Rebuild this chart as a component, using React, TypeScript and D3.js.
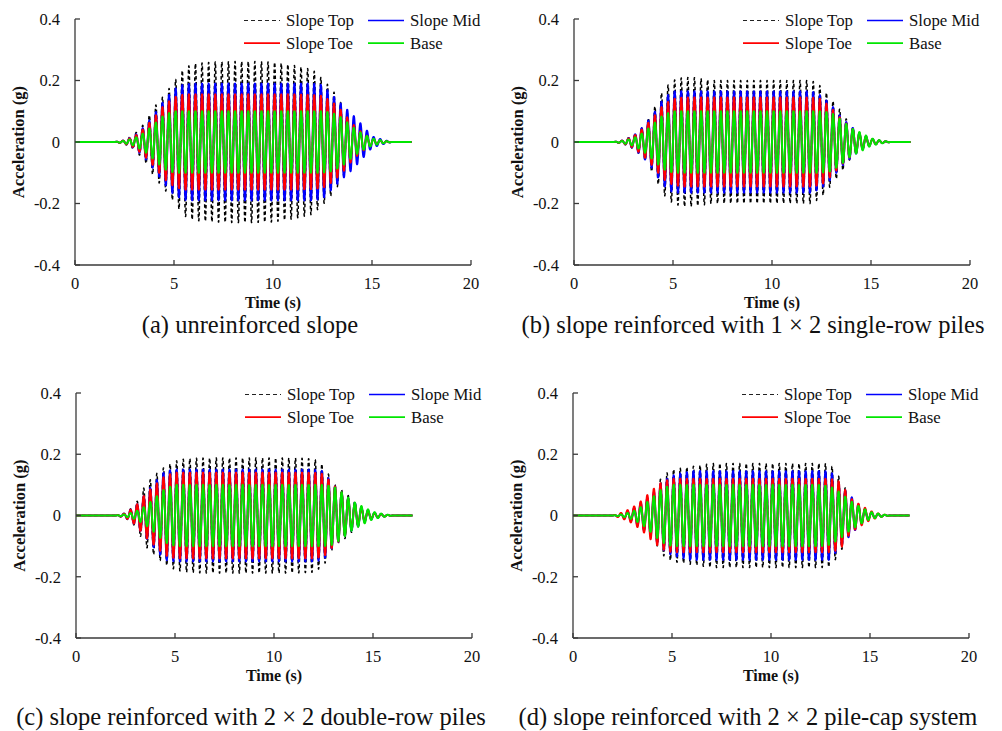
import React from "react";
import * as d3 from "d3";

// ---------- DATA ----------
const SERIES_NAMES = ["Slope Top", "Slope Mid", "Slope Toe", "Base"];
const X_TICKS = [0, 5, 10, 15, 20];
const Y_TICKS = [0.4, 0.2, 0, -0.2, -0.4];
const CAPTIONS = [
  "(a) unreinforced slope",
  "(b) slope reinforced with 1 × 2 single-row piles",
  "(c) slope reinforced with 2 × 2 double-row piles",
  "(d) slope reinforced with 2 × 2 pile-cap system",
];
const DURATION = 17; // s, record length
const CARRIER_HZ = 3; // dominant frequency of the harmonic input

// envelope knots (time, s)
const KNOTS = [0, 2, 2.5, 3, 3.5, 4, 4.5, 5, 5.5, 6, 7, 8, 9, 10, 11, 12, 12.5, 13, 13.5, 14, 14.5, 15, 15.5, 16, 17];

// peak amplitude (g) at each knot
const A_TOP = [0, 0, 0.006, 0.025, 0.06, 0.114, 0.152, 0.196, 0.24, 0.255, 0.26, 0.262, 0.262, 0.26, 0.25, 0.235, 0.205, 0.17, 0.12, 0.07, 0.035, 0.012, 0.005, 0, 0];
const A_MID = [0, 0, 0.005, 0.02, 0.05, 0.09, 0.135, 0.172, 0.188, 0.19, 0.19, 0.19, 0.19, 0.19, 0.19, 0.19, 0.185, 0.152, 0.12, 0.09, 0.055, 0.018, 0.008, 0, 0];
const A_TOE = [0, 0, 0.005, 0.018, 0.045, 0.08, 0.12, 0.145, 0.155, 0.155, 0.155, 0.155, 0.155, 0.155, 0.155, 0.153, 0.15, 0.13, 0.1, 0.06, 0.03, 0.01, 0.004, 0, 0];
const A_BASE = [0, 0, 0.004, 0.012, 0.03, 0.058, 0.088, 0.1, 0.1, 0.1, 0.1, 0.1, 0.1, 0.1, 0.1, 0.1, 0.1, 0.095, 0.078, 0.05, 0.027, 0.012, 0.005, 0, 0];

const B_TOP = [0, 0, 0.006, 0.022, 0.05, 0.105, 0.17, 0.2, 0.21, 0.21, 0.2, 0.2, 0.2, 0.2, 0.2, 0.2, 0.18, 0.14, 0.1, 0.05, 0.025, 0.01, 0.004, 0, 0];
const B_MID = [0, 0, 0.005, 0.02, 0.05, 0.09, 0.14, 0.165, 0.165, 0.165, 0.165, 0.165, 0.165, 0.165, 0.165, 0.165, 0.15, 0.12, 0.08, 0.05, 0.025, 0.01, 0.004, 0, 0];
const B_TOE = [0, 0, 0.005, 0.018, 0.045, 0.08, 0.12, 0.14, 0.145, 0.145, 0.145, 0.145, 0.145, 0.145, 0.145, 0.145, 0.14, 0.11, 0.075, 0.045, 0.025, 0.01, 0.004, 0, 0];
const B_BASE = [0, 0, 0.004, 0.012, 0.03, 0.058, 0.088, 0.1, 0.1, 0.1, 0.1, 0.1, 0.1, 0.1, 0.1, 0.1, 0.1, 0.095, 0.072, 0.045, 0.03, 0.012, 0.005, 0, 0];

const C_TOP = [0, 0, 0.008, 0.035, 0.1, 0.133, 0.16, 0.177, 0.185, 0.187, 0.188, 0.188, 0.188, 0.188, 0.188, 0.185, 0.165, 0.105, 0.08, 0.05, 0.025, 0.01, 0.004, 0, 0];
const C_MID = [0, 0, 0.007, 0.03, 0.07, 0.11, 0.145, 0.15, 0.15, 0.15, 0.15, 0.15, 0.15, 0.15, 0.15, 0.15, 0.145, 0.1, 0.07, 0.045, 0.022, 0.01, 0.004, 0, 0];
const C_TOE = [0, 0, 0.007, 0.03, 0.07, 0.1, 0.13, 0.14, 0.14, 0.14, 0.14, 0.14, 0.14, 0.14, 0.14, 0.14, 0.135, 0.1, 0.07, 0.04, 0.02, 0.008, 0.004, 0, 0];
const C_BASE = [0, 0, 0.004, 0.012, 0.03, 0.058, 0.088, 0.1, 0.1, 0.1, 0.1, 0.1, 0.1, 0.1, 0.1, 0.1, 0.1, 0.095, 0.072, 0.045, 0.028, 0.012, 0.005, 0, 0];

const D_TOP = [0, 0, 0.006, 0.02, 0.045, 0.07, 0.128, 0.15, 0.155, 0.16, 0.17, 0.17, 0.17, 0.17, 0.17, 0.17, 0.17, 0.168, 0.12, 0.06, 0.03, 0.01, 0.004, 0, 0];
const D_MID = [0, 0, 0.006, 0.02, 0.045, 0.07, 0.11, 0.13, 0.138, 0.145, 0.145, 0.145, 0.145, 0.145, 0.145, 0.145, 0.145, 0.145, 0.1, 0.065, 0.03, 0.01, 0.004, 0, 0];
const D_TOE = [0, 0, 0.01, 0.025, 0.05, 0.083, 0.11, 0.12, 0.12, 0.12, 0.12, 0.12, 0.12, 0.12, 0.12, 0.12, 0.12, 0.12, 0.11, 0.057, 0.035, 0.015, 0.005, 0, 0];
const D_BASE = [0, 0, 0.004, 0.012, 0.03, 0.058, 0.088, 0.1, 0.1, 0.1, 0.1, 0.1, 0.1, 0.1, 0.1, 0.1, 0.1, 0.095, 0.075, 0.048, 0.028, 0.012, 0.005, 0, 0];

const PANEL_DATA = [
  [A_TOP, A_MID, A_TOE, A_BASE],
  [B_TOP, B_MID, B_TOE, B_BASE],
  [C_TOP, C_MID, C_TOE, C_BASE],
  [D_TOP, D_MID, D_TOE, D_BASE],
];

// ---------- STYLE / LAYOUT ----------
const COLORS = ["#000000", "#0000ff", "#ff0000", "#00e600"];
const FONT = "'Liberation Serif', 'Times New Roman', serif";
const AXIS_COLOR = "#3a3a3a";

const PANELS = [
  { x0: 75, x1: 471, yTop: 19, yBot: 265, capX: 250, capY: 333 },
  { x0: 574, x1: 970, yTop: 19, yBot: 265, capX: 753, capY: 333 },
  { x0: 76, x1: 472, yTop: 393, yBot: 638, capX: 251, capY: 725 },
  { x0: 573, x1: 969, yTop: 393, yBot: 638, capX: 748, capY: 725 },
];

const TIMES = d3.range(0, DURATION + 1e-9, 0.004);

function Panel({ idx }: { idx: number }) {
  const p = PANELS[idx];
  const x = d3.scaleLinear().domain([0, 20]).range([p.x0, p.x1]);
  const y = d3.scaleLinear().domain([-0.4, 0.4]).range([p.yBot, p.yTop]);
  const line = d3
    .line<[number, number]>()
    .x((d) => x(d[0]))
    .y((d) => y(d[1]));

  const paths = PANEL_DATA[idx].map((amp) => {
    const env = d3.scaleLinear().domain(KNOTS).range(amp).clamp(true);
    const pts: [number, number][] = TIMES.map((t) => [
      t,
      env(t) * Math.sin(2 * Math.PI * CARRIER_HZ * t),
    ]);
    return line(pts) || "";
  });

  const lx = p.x0 + 169;
  const ly = p.yTop + 1.5;
  const legendItems = [
    { i: 0, x: lx, y: ly },
    { i: 1, x: lx + 124, y: ly },
    { i: 2, x: lx, y: ly + 22.6 },
    { i: 3, x: lx + 124, y: ly + 22.6 },
  ];

  const cy = (p.yTop + p.yBot) / 2;

  return (
    <g>
      {/* traces */}
      {paths.map((d, i) => (
        <path
          key={i}
          d={d}
          fill="none"
          stroke={COLORS[i]}
          strokeWidth={i === 0 ? 1.5 : 2}
          strokeDasharray={i === 0 ? "3.5,2.5" : undefined}
          strokeLinejoin="round"
        />
      ))}
      {/* axes */}
      <line x1={p.x0} x2={p.x0} y1={p.yTop} y2={p.yBot} stroke={AXIS_COLOR} strokeWidth={1.3} />
      <line x1={p.x0} x2={p.x1} y1={p.yBot} y2={p.yBot} stroke={AXIS_COLOR} strokeWidth={1.3} />
      {Y_TICKS.map((v) => (
        <g key={"y" + v}>
          <line x1={p.x0} x2={p.x0 + 5} y1={y(v)} y2={y(v)} stroke={AXIS_COLOR} strokeWidth={1.3} />
          <text
            x={p.x0 - 15}
            y={y(v)}
            dy="0.35em"
            textAnchor="end"
            fontFamily={FONT}
            fontSize={16.5}
            fill="#111"
          >
            {String(v)}
          </text>
        </g>
      ))}
      {X_TICKS.map((v) => (
        <g key={"x" + v}>
          <line x1={x(v)} x2={x(v)} y1={p.yBot} y2={p.yBot - 5} stroke={AXIS_COLOR} strokeWidth={1.3} />
          <text
            x={x(v)}
            y={p.yBot + 24}
            textAnchor="middle"
            fontFamily={FONT}
            fontSize={16.5}
            fill="#111"
          >
            {String(v)}
          </text>
        </g>
      ))}
      <text
        x={x(10)}
        y={p.yBot + 42.5}
        textAnchor="middle"
        fontFamily={FONT}
        fontSize={16}
        fontWeight="bold"
        fill="#111"
      >
        Time (s)
      </text>
      <text
        transform={`translate(${p.x0 - 51},${cy}) rotate(-90)`}
        textAnchor="middle"
        fontFamily={FONT}
        fontSize={16.5}
        fontWeight="bold"
        fill="#111"
      >
        Acceleration (g)
      </text>
      {/* legend */}
      {legendItems.map((it) => (
        <g key={"l" + it.i}>
          <line
            x1={it.x}
            x2={it.x + 36}
            y1={it.y}
            y2={it.y}
            stroke={it.i === 0 ? "#222" : COLORS[it.i]}
            strokeWidth={it.i === 0 ? 1.2 : 1.6}
            strokeDasharray={it.i === 0 ? "4,3" : undefined}
          />
          <text
            x={it.x + 42}
            y={it.y}
            dy="0.33em"
            fontFamily={FONT}
            fontSize={16.8}
            fill="#111"
          >
            {SERIES_NAMES[it.i]}
          </text>
        </g>
      ))}
      {/* caption */}
      <text
        x={p.capX}
        y={p.capY}
        textAnchor="middle"
        fontFamily={FONT}
        fontSize={24.5}
        fill="#111"
      >
        {CAPTIONS[idx]}
      </text>
    </g>
  );
}

export default function App() {
  return (
    <svg
      width={1002}
      height={731}
      style={{ position: "absolute", left: 0, top: 0, background: "#fff" }}
    >
      <rect width={1002} height={731} fill="#fff" />
      {PANELS.map((_, i) => (
        <Panel key={i} idx={i} />
      ))}
    </svg>
  );
}
